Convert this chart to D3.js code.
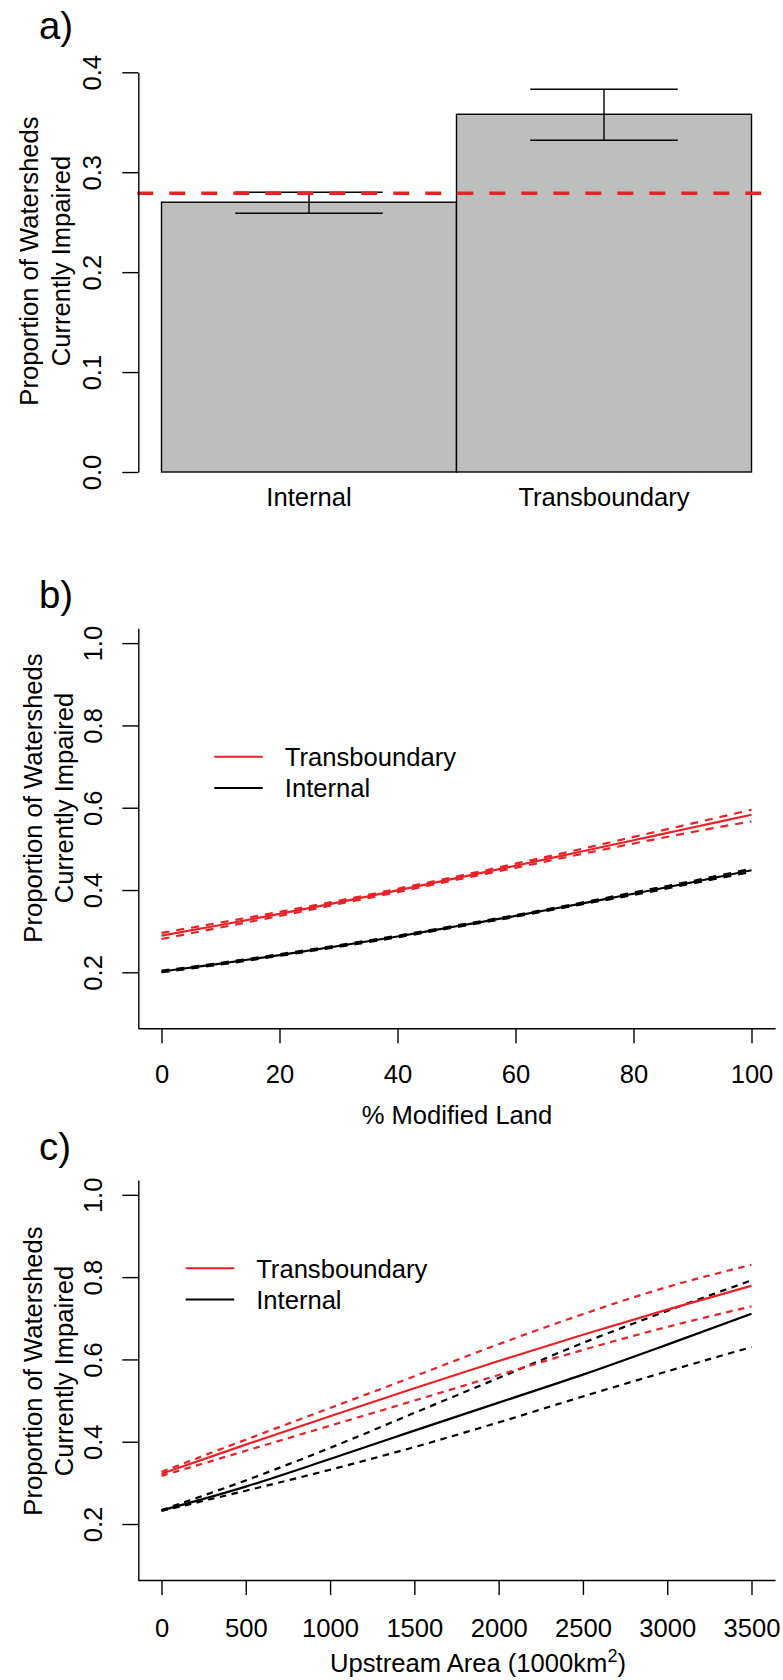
<!DOCTYPE html>
<html>
<head>
<meta charset="utf-8">
<script src="https://cdnjs.cloudflare.com/ajax/libs/d3/7.8.5/d3.min.js"></script>
<style>
  body { margin: 0; background: #fff; }
  text { font-family: "Liberation Sans", Arial, Helvetica, sans-serif; fill: #000; }
</style>
</head>
<body>
<script>
// ---- panel a data
var barCats = ["Internal", "Transboundary"];
var barMean = [0.270, 0.358];
var barLow = [0.259, 0.332];
var barHigh = [0.280, 0.383];
var overallMean = 0.279;
var aTicks = [0, 0.1, 0.2, 0.3, 0.4];

// ---- panel b data (% modified land)
var modLand = [0, 10, 20, 30, 40, 50, 60, 70, 80, 90, 100];
var modTransFit = [0.289, 0.315, 0.342, 0.370, 0.399, 0.429, 0.459, 0.490, 0.521, 0.552, 0.583];
var modTransHi  = [0.296, 0.321, 0.347, 0.374, 0.403, 0.433, 0.464, 0.496, 0.529, 0.562, 0.595];
var modTransLo  = [0.281, 0.309, 0.337, 0.366, 0.395, 0.425, 0.454, 0.484, 0.513, 0.541, 0.567];
var modIntFit = [0.202, 0.221, 0.242, 0.264, 0.287, 0.312, 0.337, 0.364, 0.391, 0.419, 0.448];
var modIntHi  = [0.204, 0.223, 0.244, 0.266, 0.289, 0.314, 0.339, 0.366, 0.394, 0.422, 0.452];
var modIntLo  = [0.200, 0.219, 0.240, 0.262, 0.285, 0.310, 0.335, 0.362, 0.388, 0.416, 0.444];
var modTicks = [0, 20, 40, 60, 80, 100];

// ---- panel c data (upstream area, 1000 km2)
var upArea = [0, 500, 1000, 1500, 2000, 2500, 3000, 3500];
var areaTransFit = [0.322, 0.393, 0.462, 0.530, 0.596, 0.660, 0.721, 0.779];
var areaTransHi  = [0.327, 0.405, 0.482, 0.559, 0.637, 0.710, 0.776, 0.830];
var areaTransLo  = [0.317, 0.378, 0.439, 0.500, 0.562, 0.623, 0.679, 0.729];
var areaIntFit = [0.233, 0.291, 0.358, 0.427, 0.495, 0.563, 0.636, 0.711];
var areaIntHi  = [0.234, 0.306, 0.385, 0.470, 0.555, 0.640, 0.718, 0.792];
var areaIntLo  = [0.232, 0.281, 0.332, 0.387, 0.447, 0.510, 0.571, 0.630];
var areaTicks = [0, 500, 1000, 1500, 2000, 2500, 3000, 3500];

var probTicks = [0.2, 0.4, 0.6, 0.8, 1.0];
var legendNames = ["Transboundary", "Internal"];

var red = "#ea2227";
var fs = 25.6;
var lw = 1.4;

var svg = d3.select("body").append("svg")
    .attr("width", 783)
    .attr("height", 1680);

function styleAxis(g) {
    g.selectAll("path, line").attr("stroke", "#000").attr("stroke-width", lw);
    g.selectAll("text").style("font-size", fs + "px").attr("fill", "#000");
}

function yLabels(g, fmt, base) {
    // R style: tick labels parallel to the axis
    g.selectAll(".tick text")
        .text(function (d) { return fmt(d); })
        .attr("x", null).attr("dy", null)
        .attr("text-anchor", "middle")
        .attr("transform", "translate(" + base + ",0) rotate(-90)");
}

function yTitle(cy, x1, x2) {
    svg.append("text").attr("transform", "translate(" + x1 + "," + cy + ") rotate(-90)")
        .attr("text-anchor", "middle").style("font-size", fs + "px")
        .text("Proportion of Watersheds");
    svg.append("text").attr("transform", "translate(" + x2 + "," + cy + ") rotate(-90)")
        .attr("text-anchor", "middle").style("font-size", fs + "px")
        .text("Currently Impaired");
}

function panelLabel(txt, y) {
    svg.append("text").attr("x", 39).attr("y", y)
        .style("font-size", "38.4px").text(txt);
}

// ================= panel a =================
var xa = d3.scaleBand().domain(barCats).range([161.5, 751.5]).padding(0);
var ya = d3.scaleLinear().domain([0, 0.4]).range([472, 72.3]);

panelLabel("a)", 39);

svg.selectAll(".bar")
    .data(barCats)
    .enter().append("rect")
    .attr("x", function (d) { return xa(d); })
    .attr("y", function (d, i) { return ya(barMean[i]); })
    .attr("width", xa.bandwidth())
    .attr("height", function (d, i) { return ya(0) - ya(barMean[i]); })
    .attr("fill", "#bebebe")
    .attr("stroke", "#000")
    .attr("stroke-width", lw);

var err = svg.append("g").attr("stroke", "#000").attr("stroke-width", lw);
barCats.forEach(function (c, i) {
    var cx = xa(c) + xa.bandwidth() / 2, hw = xa.bandwidth() / 4;
    err.append("line").attr("x1", cx).attr("x2", cx).attr("y1", ya(barLow[i])).attr("y2", ya(barHigh[i]));
    err.append("line").attr("x1", cx - hw).attr("x2", cx + hw).attr("y1", ya(barLow[i])).attr("y2", ya(barLow[i]));
    err.append("line").attr("x1", cx - hw).attr("x2", cx + hw).attr("y1", ya(barHigh[i])).attr("y2", ya(barHigh[i]));
});

svg.append("line")
    .attr("x1", 137.3).attr("x2", 775)
    .attr("y1", ya(overallMean)).attr("y2", ya(overallMean))
    .attr("stroke", red).attr("stroke-width", 3.4)
    .attr("stroke-dasharray", "16,16");

var axA = svg.append("g").attr("transform", "translate(138.3,0)")
    .call(d3.axisLeft(ya).tickValues(aTicks).tickSize(16).tickSizeOuter(0));
styleAxis(axA);
yLabels(axA, d3.format(".1f"), -37);

barCats.forEach(function (c) {
    svg.append("text").attr("x", xa(c) + xa.bandwidth() / 2).attr("y", 506)
        .attr("text-anchor", "middle").style("font-size", fs + "px").text(c);
});
yTitle(261, 37.5, 70);

// ================= panels b and c =================
function curvePanel(opt) {
    var x = d3.scaleLinear().domain(opt.xdom).range([137.9, 775.1]);
    var y = d3.scaleLinear().domain([0.064, 1.036]).range([opt.top + 400, opt.top]);

    panelLabel(opt.label, opt.labelY);

    var line = d3.line()
        .x(function (d) { return x(d[0]); })
        .y(function (d) { return y(d[1]); })
        .curve(d3.curveMonotoneX);

    var series = [
        {v: opt.intLo, col: "#000", dash: opt.dash},
        {v: opt.intHi, col: "#000", dash: opt.dash},
        {v: opt.intFit, col: "#000", dash: null},
        {v: opt.trLo, col: red, dash: opt.dash},
        {v: opt.trHi, col: red, dash: opt.dash},
        {v: opt.trFit, col: red, dash: null}
    ];
    series.forEach(function (s) {
        svg.append("path")
            .datum(opt.xs.map(function (xv, i) { return [xv, s.v[i]]; }))
            .attr("d", line)
            .attr("fill", "none")
            .attr("stroke", s.col)
            .attr("stroke-width", 2.2)
            .attr("stroke-dasharray", s.dash);
    });

    var axY = svg.append("g").attr("transform", "translate(138.3,0)")
        .call(d3.axisLeft(y).tickValues(probTicks).tickSize(16).tickSizeOuter(0));
    styleAxis(axY);
    yLabels(axY, d3.format(".1f"), -36.5);

    var axX = svg.append("g").attr("transform", "translate(0," + (opt.top + 400) + ")")
        .call(d3.axisBottom(x).tickValues(opt.ticks).tickFormat(d3.format("d"))
            .tickSize(15).tickSizeOuter(0));
    styleAxis(axX);
    axX.selectAll(".tick text").attr("dy", null)
        .attr("y", opt.tickBase - opt.top - 400);

    // legend
    [red, "#000"].forEach(function (col, i) {
        var ly = opt.legY + i * 31.3;
        svg.append("line").attr("x1", opt.legX).attr("x2", opt.legX + 48.5)
            .attr("y1", ly).attr("y2", ly)
            .attr("stroke", col).attr("stroke-width", 2);
        svg.append("text").attr("x", opt.legX + 70.5).attr("y", ly + 9.3)
            .style("font-size", fs + "px").text(legendNames[i]);
    });

    yTitle(opt.titleY, 42.3, 73);
    return x;
}

curvePanel({
    label: "b)", labelY: 608, top: 628.3,
    xdom: [-4, 104], xs: modLand, ticks: modTicks, tickBase: 1083.5,
    trFit: modTransFit, trLo: modTransLo, trHi: modTransHi,
    intFit: modIntFit, intLo: modIntLo, intHi: modIntHi,
    dash: "8,7", legX: 214.3, legY: 756.7, titleY: 798
});
svg.append("text").attr("x", 457).attr("y", 1124).attr("text-anchor", "middle")
    .style("font-size", fs + "px").text("% Modified Land");

curvePanel({
    label: "c)", labelY: 1160, top: 1180,
    xdom: [-140, 3640], xs: upArea, ticks: areaTicks, tickBase: 1637,
    trFit: areaTransFit, trLo: areaTransLo, trHi: areaTransHi,
    intFit: areaIntFit, intLo: areaIntLo, intHi: areaIntHi,
    dash: "6.5,5.5", legX: 185.7, legY: 1268.3, titleY: 1371
});
var xt = svg.append("text").attr("x", 478).attr("y", 1672).attr("text-anchor", "middle")
    .style("font-size", fs + "px");
xt.append("tspan").text("Upstream Area (1000km");
xt.append("tspan").attr("dy", -10).style("font-size", "18px").text("2");
xt.append("tspan").attr("dy", 10).text(")");
</script>
</body>
</html>
